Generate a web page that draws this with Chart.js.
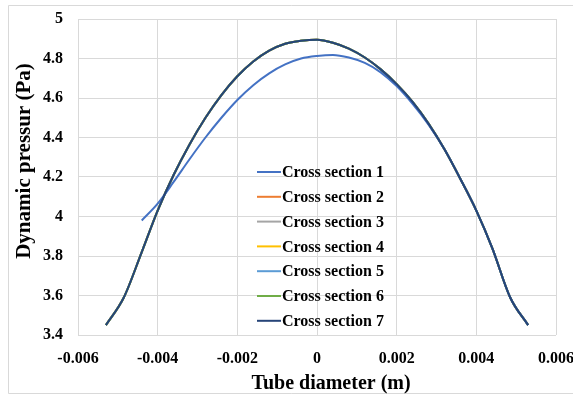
<!DOCTYPE html>
<html>
<head>
<meta charset="utf-8">
<script src="https://cdn.jsdelivr.net/npm/chart.js@4.4.0/dist/chart.umd.min.js"></script>
<style>
  html, body { margin: 0; padding: 0; background: #ffffff; }
  #wrap { width: 573px; height: 396px; }
</style>
</head>
<body>
<div id="wrap"><canvas id="c" width="573" height="396"></canvas></div>
<script>
// ---- Data ----
const seriesNames = ["Cross section 1", "Cross section 2", "Cross section 3", "Cross section 4", "Cross section 5", "Cross section 6", "Cross section 7"];
const seriesColors = ["#4472C4", "#ED7D31", "#A5A5A5", "#FFC000", "#5B9BD5", "#70AD47", "#264478"];

// Cross section 1 (diverges on the left side)
const x1 = [-0.0044, -0.004, -0.0036, -0.0032, -0.0028, -0.0024, -0.002, -0.0016, -0.0012, -0.0008, -0.0004, 0, 0.0004, 0.0008, 0.0012, 0.0016, 0.002, 0.0024, 0.0028, 0.0032, 0.0036, 0.004, 0.0044, 0.00485, 0.0053];
const y1 = [3.98, 4.065, 4.175, 4.29, 4.40, 4.50, 4.59, 4.665, 4.725, 4.77, 4.80, 4.813, 4.818, 4.805, 4.778, 4.73, 4.66, 4.57, 4.465, 4.34, 4.19, 4.03, 3.84, 3.59, 3.45];

// Cross sections 2..7 (overlap each other, section 7 drawn on top)
const xFull = [-0.0053, -0.00485, -0.0044, -0.004, -0.0036, -0.0032, -0.0028, -0.0024, -0.002, -0.0016, -0.0012, -0.0008, -0.0004, 0, 0.0004, 0.0008, 0.0012, 0.0016, 0.002, 0.0024, 0.0028, 0.0032, 0.0036, 0.004, 0.0044, 0.00485, 0.0053];
const y2 = [3.45, 3.59, 3.82, 4.03, 4.21, 4.365, 4.50, 4.615, 4.71, 4.785, 4.84, 4.875, 4.89, 4.895, 4.88, 4.85, 4.805, 4.745, 4.67, 4.58, 4.47, 4.34, 4.19, 4.03, 3.84, 3.59, 3.45];
const y3 = [3.45, 3.59, 3.82, 4.03, 4.21, 4.365, 4.50, 4.615, 4.71, 4.785, 4.84, 4.875, 4.89, 4.895, 4.88, 4.85, 4.805, 4.745, 4.67, 4.58, 4.47, 4.34, 4.19, 4.03, 3.84, 3.59, 3.45];
const y4 = [3.45, 3.59, 3.82, 4.03, 4.21, 4.365, 4.50, 4.615, 4.71, 4.785, 4.84, 4.875, 4.89, 4.895, 4.88, 4.85, 4.805, 4.745, 4.67, 4.58, 4.47, 4.34, 4.19, 4.03, 3.84, 3.59, 3.45];
const y5 = [3.45, 3.59, 3.82, 4.03, 4.21, 4.365, 4.50, 4.615, 4.71, 4.785, 4.84, 4.875, 4.89, 4.895, 4.88, 4.85, 4.805, 4.745, 4.67, 4.58, 4.47, 4.34, 4.19, 4.03, 3.84, 3.59, 3.45];
const y6 = [3.45, 3.59, 3.82, 4.03, 4.21, 4.365, 4.50, 4.615, 4.71, 4.785, 4.84, 4.875, 4.89, 4.895, 4.88, 4.85, 4.805, 4.745, 4.67, 4.58, 4.47, 4.34, 4.19, 4.03, 3.84, 3.59, 3.45];
const y7 = [3.45, 3.59, 3.82, 4.03, 4.21, 4.365, 4.50, 4.615, 4.71, 4.785, 4.84, 4.875, 4.89, 4.895, 4.88, 4.85, 4.805, 4.745, 4.67, 4.58, 4.47, 4.34, 4.19, 4.03, 3.84, 3.59, 3.45];

const xTicks = [-0.006, -0.004, -0.002, 0, 0.002, 0.004, 0.006];
const yTicks = [3.4, 3.6, 3.8, 4, 4.2, 4.4, 4.6, 4.8, 5];
const xTitle = "Tube diameter (m)";
const yTitle = "Dynamic pressur (Pa)";

// ---- Build datasets ----
const FONT = "'Liberation Serif', 'Times New Roman', serif";
const seriesX = [x1, xFull, xFull, xFull, xFull, xFull, xFull];
const seriesY = [y1, y2, y3, y4, y5, y6, y7];
const drawOrder = [1, 6, 5, 4, 3, 2, 0]; // lower = on top

const datasets = seriesNames.map((name, i) => ({
  label: name,
  data: seriesX[i].map((x, k) => ({ x: x, y: seriesY[i][k] })),
  borderColor: seriesColors[i],
  backgroundColor: seriesColors[i],
  borderWidth: 2,
  pointRadius: 0,
  showLine: true,
  cubicInterpolationMode: 'monotone',
  fill: false,
  order: drawOrder[i]
}));

function fmt(v) {
  return String(Number(v.toFixed(4)));
}

// Background, frame, axis titles and in-plot legend
const decorPlugin = {
  id: 'decor',
  beforeDraw(chart) {
    const ctx = chart.ctx;
    ctx.save();
    ctx.fillStyle = '#ffffff';
    ctx.fillRect(0, 0, chart.width, chart.height);
    ctx.strokeStyle = '#d9d9d9';
    ctx.lineWidth = 1;
    ctx.beginPath();
    ctx.moveTo(580, 5.5);
    ctx.lineTo(8.5, 5.5);
    ctx.lineTo(8.5, 393.5);
    ctx.lineTo(580, 393.5);
    ctx.stroke();
    ctx.restore();
  },
  afterDraw(chart) {
    const ctx = chart.ctx;
    ctx.save();
    // axis titles
    ctx.fillStyle = '#000000';
    ctx.font = "bold 20px " + FONT;
    ctx.textAlign = 'center';
    ctx.textBaseline = 'middle';
    ctx.fillText(xTitle, 331, 384);
    ctx.save();
    ctx.translate(25, 161);
    ctx.rotate(-Math.PI / 2);
    ctx.font = "bold 21px " + FONT;
    ctx.fillText(yTitle, 0, 0);
    ctx.restore();
    // legend
    ctx.font = "bold 16px " + FONT;
    ctx.textAlign = 'left';
    ctx.textBaseline = 'middle';
    chart.data.datasets.forEach((ds, i) => {
      const cy = 172 + i * 24.8;
      ctx.strokeStyle = ds.borderColor;
      ctx.lineWidth = 2;
      ctx.beginPath();
      ctx.moveTo(257, cy);
      ctx.lineTo(281, cy);
      ctx.stroke();
      ctx.fillStyle = '#000000';
      ctx.fillText(ds.label, 282, cy + 1);
    });
    ctx.restore();
  }
};

new Chart(document.getElementById('c'), {
  type: 'scatter',
  data: { datasets: datasets },
  plugins: [decorPlugin],
  options: {
    responsive: false,
    animation: false,
    devicePixelRatio: 1,
    layout: { padding: { left: 8, right: 17, top: 19, bottom: 0 } },
    plugins: {
      legend: { display: false },
      tooltip: { enabled: false },
      title: { display: false }
    },
    scales: {
      x: {
        type: 'linear',
        min: xTicks[0],
        max: xTicks[xTicks.length - 1],
        afterBuildTicks(scale) { scale.ticks = xTicks.map(v => ({ value: v })); },
        afterFit(scale) { scale.height = 61; scale.paddingLeft = 0; scale.paddingRight = 0; },
        grid: { color: '#d9d9d9', lineWidth: 1, drawTicks: false },
        border: { display: false },
        ticks: {
          padding: 14,
          color: '#000000',
          font: { family: FONT, size: 16, weight: 'bold' },
          maxRotation: 0,
          autoSkip: false,
          callback: (v) => fmt(v)
        }
      },
      y: {
        type: 'linear',
        min: yTicks[0],
        max: yTicks[yTicks.length - 1],
        afterBuildTicks(scale) { scale.ticks = yTicks.map(v => ({ value: v })); },
        afterFit(scale) { scale.width = 70; scale.paddingTop = 0; scale.paddingBottom = 0; },
        grid: { color: '#d9d9d9', lineWidth: 1, drawTicks: false },
        border: { display: false },
        ticks: {
          padding: 15,
          color: '#000000',
          font: { family: FONT, size: 16, weight: 'bold' },
          autoSkip: false,
          callback: (v) => fmt(v)
        }
      }
    }
  }
});
</script>
</body>
</html>
